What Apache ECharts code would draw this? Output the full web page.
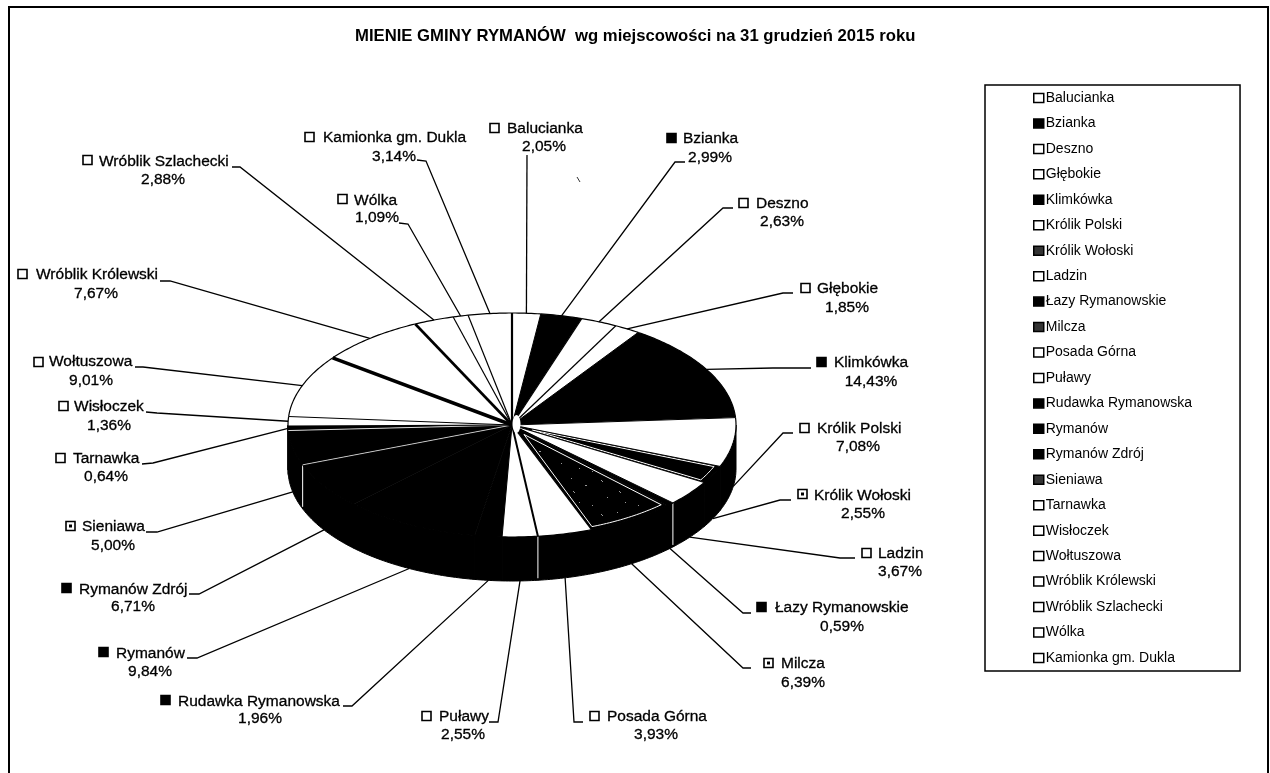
<!DOCTYPE html>
<html>
<head>
<meta charset="utf-8">
<style>
  html, body { margin: 0; padding: 0; background: #fff; }
  #chart { width: 1270px; height: 773px; }
</style>
<script src="https://cdn.jsdelivr.net/npm/echarts@6/dist/echarts.min.js"></script>
</head>
<body>
<div id="chart"></div>
<script>
  // dane
  var chartTitle = 'MIENIE GMINY RYMANÓW  wg miejscowości na 31 grudzień 2015 roku';
  var villages = ['Balucianka', 'Bzianka', 'Deszno', 'Głębokie', 'Klimkówka', 'Królik Polski', 'Królik Wołoski', 'Ladzin', 'Łazy Rymanowskie', 'Milcza', 'Posada Górna', 'Puławy', 'Rudawka Rymanowska', 'Rymanów', 'Rymanów Zdrój', 'Sieniawa', 'Tarnawka', 'Wisłoczek', 'Wołtuszowa', 'Wróblik Królewski', 'Wróblik Szlachecki', 'Wólka', 'Kamionka gm. Dukla'];
  var shares = [2.05, 2.99, 2.63, 1.85, 14.43, 7.08, 2.55, 3.67, 0.59, 6.39, 3.93, 2.55, 1.96, 9.84, 6.71, 5.00, 0.64, 1.36, 9.01, 7.67, 2.88, 1.09, 3.14];

  // wyglad wycinkow
  var sliceKind = ['white', 'black', 'white', 'white', 'black', 'white', 'frame', 'white', 'black', 'speckle', 'white', 'white', 'black', 'black', 'black', 'black', 'black', 'white', 'white', 'white', 'white', 'white', 'white'];
  var markerKind = ['white', 'black', 'white', 'white', 'black', 'white', 'frame', 'white', 'black', 'frame', 'white', 'white', 'black', 'black', 'black', 'frame', 'white', 'white', 'white', 'white', 'white', 'white', 'white'];
  var edgeWidth = [2.2, 1, 1.2, 1.2, 1, 1, 1, 1.2, 1, 1, 1.2, 2, 1, 1, 1, 0.7, 0.8, 1.2, 1.2, 3.5, 2.6, 1.2, 1.2];
  var edgeColor = ['#000', '#000', '#000', '#000', '#000', '#000', '#000', '#000', '#000', '#000', '#000', '#000', '#000', '#000', '#000', '#fff', '#fff', '#000', '#000', '#000', '#000', '#000', '#000'];
  var wallSeam = [0, 0, 0, 0, 0, 0, 0, 0, 1, 0, 0, 1, 0, 0, 0, 1, 0, 0, 0, 0, 0, 0, 0];

  // polozenie opisow: znacznik x,y / nazwa x,y / procent x,y / zalamanie linii
  var labelPlaces = [
    [490, 128, 507, 129, 544, 147, [[527, 155]]],
    [667, 138, 683, 139, 710, 158, [[685, 162], [675, 162]]],
    [739, 203, 756, 204, 782, 222, [[733, 208], [723, 208]]],
    [801, 288, 817, 289, 847, 308, [[793, 293], [783, 293]]],
    [817, 362, 834, 363, 871, 382, [[811, 368], [773, 368]]],
    [800, 428, 817, 429, 858, 447, [[793, 433], [783, 433]]],
    [798, 494, 814, 496, 863, 514, [[791, 500], [780, 500]]],
    [862, 553, 878, 554, 900, 572, [[855, 558], [840, 558]]],
    [757, 607, 775, 608, 842, 627, [[751, 613], [743, 613]]],
    [764, 663, 781, 664, 803, 683, [[751, 668], [743, 668]]],
    [590, 716, 607, 717, 656, 735, [[583, 722], [574, 722]]],
    [422, 716, 439, 717, 463, 735, [[489, 722], [498, 722]]],
    [161, 700, 178, 702, 260, 719, [[343, 706], [352, 706]]],
    [99, 652, 116, 654, 150, 672, [[187, 658], [197, 658]]],
    [62, 588, 79, 590, 133, 607, [[189, 594], [199, 594]]],
    [66, 526, 82, 527, 113, 546, [[146, 532], [157, 532]]],
    [56, 458, 73, 459, 106, 477, [[142, 464], [153, 463]]],
    [59, 406, 74, 407, 109, 426, [[146, 412], [157, 413]]],
    [34, 362, 49, 362, 91, 381, [[135, 367], [143, 367]]],
    [18, 274, 36, 275, 96, 294, [[160, 281], [170, 281]]],
    [83, 160, 99, 162, 163, 180, [[232, 167], [240, 167]]],
    [338, 199, 354, 201, 377, 218, [[399, 223], [408, 224]]],
    [305, 137, 323, 138, 394, 157, [[417, 160], [426, 161]]]
  ];

  var FONT = '"Liberation Sans", Arial, sans-serif';
  var pie = {cx: 512, cy: 425, rx: 224, ry: 112, depth: 44};

  var total = shares.reduce(function (a, b) { return a + b; }, 0);
  var starts = [];
  var sum = 0;
  for (let i = 0; i < shares.length; i++) {
    starts.push(sum);
    sum += shares[i];
  }

  function toAngle(share) {
    return share / total * 2 * Math.PI;
  }
  function rimPoint(a, k, dy) {
    return [pie.cx + pie.rx * k * Math.sin(a), pie.cy - pie.ry * k * Math.cos(a) + (dy || 0)];
  }
  function arcPoints(a0, a1, k, dy) {
    let pts = [];
    let n = Math.max(2, Math.ceil((a1 - a0) / 0.015));
    for (let i = 0; i <= n; i++) {
      pts.push(rimPoint(a0 + (a1 - a0) * i / n, k, dy));
    }
    return pts;
  }

  // rzadkie plamki na wycinku Milcza
  function speckleTile() {
    let c = document.createElement('canvas');
    c.width = 46;
    c.height = 34;
    let g = c.getContext('2d');
    g.fillStyle = '#000';
    g.fillRect(0, 0, 46, 34);
    g.fillStyle = '#999';
    [[3, 4], [4, 5], [19, 2], [33, 9], [34, 9], [9, 21], [27, 26], [40, 29], [21, 15], [22, 16]].forEach(function (p) {
      g.fillRect(p[0], p[1], 1, 1);
    });
    return c;
  }
  var speckle = {image: speckleTile(), repeat: 'repeat'};

  function renderWall(params, api) {
    let s = api.value(0);
    let v = api.value(1);
    let a0 = Math.max(toAngle(s), Math.PI / 2);
    let a1 = Math.min(toAngle(s + v), Math.PI * 1.5);
    if (a1 <= a0) {
      return {type: 'group', children: []};
    }
    let top = arcPoints(a0, a1, 1, 0);
    let bottom = arcPoints(a0, a1, 1, pie.depth).reverse();
    let children = [{
      type: 'polygon',
      shape: {points: top.concat(bottom)},
      style: {fill: '#000', stroke: '#000', lineWidth: 1}
    }];
    if (wallSeam[params.dataIndex]) {
      let p = rimPoint(toAngle(s), 1, 0);
      children.push({
        type: 'line',
        z2: 5,
        shape: {x1: p[0], y1: p[1], x2: p[0], y2: p[1] + pie.depth - 2},
        style: {stroke: '#fff', lineWidth: 1}
      });
    }
    return {type: 'group', children: children};
  }

  function renderSlice(idx) {
    return function (params, api) {
      let a0 = toAngle(api.value(0));
      let a1 = toAngle(api.value(0) + api.value(1));
      let center = [pie.cx, pie.cy];
      let kind = sliceKind[idx];
      let start = rimPoint(a0, 1);
      let children = [{
        type: 'polygon',
        shape: {points: [center].concat(arcPoints(a0, a1, 1))},
        style: {fill: kind === 'white' ? '#fff' : '#000'}
      }];
      if (kind === 'frame' || kind === 'speckle') {
        let pad = 0.012;
        children.push({
          type: 'polygon',
          z2: 2,
          shape: {points: [rimPoint((a0 + a1) / 2, 0.1)].concat(arcPoints(a0 + pad, a1 - pad, 0.975))},
          style: {fill: kind === 'speckle' ? speckle : '#000', stroke: '#fff', lineWidth: 1}
        });
      }
      children.push({
        type: 'polyline',
        z2: 3,
        shape: {points: arcPoints(a0, a1, 1)},
        style: {fill: null, stroke: '#000', lineWidth: 1.2}
      });
      children.push({
        type: 'line',
        z2: 3,
        shape: {x1: pie.cx, y1: pie.cy, x2: start[0], y2: start[1]},
        style: {stroke: edgeColor[idx], lineWidth: edgeWidth[idx]}
      });
      return {type: 'group', children: children};
    };
  }

  function markerElements(kind, x, cy) {
    let size = 9;
    let y = cy - size / 2;
    let els = [{
      type: 'rect',
      shape: {x: x, y: y, width: size, height: size},
      style: {fill: kind === 'black' ? '#000' : '#fff', stroke: '#000', lineWidth: 1.6}
    }];
    if (kind === 'frame') {
      els.push({
        type: 'rect',
        shape: {x: x + 3, y: y + 3, width: size - 6, height: size - 6},
        style: {fill: '#000'}
      });
    }
    return els;
  }

  function labelText(x, y, text, align) {
    return {
      type: 'text',
      style: {x: x, y: y, text: text, fill: '#000', stroke: '#000', lineWidth: 0.3, font: '15.5px ' + FONT, textAlign: align, textVerticalAlign: 'middle'}
    };
  }

  function renderLabel(params, api) {
    let i = params.dataIndex;
    let s = api.value(0);
    let v = api.value(1);
    let place = labelPlaces[i];
    let mid = toAngle(s + v / 2);
    let deg = mid * 180 / Math.PI;
    let target = rimPoint(mid, 1, deg > 90 && deg < 265 ? pie.depth : 0);
    let pct = v.toFixed(2).replace('.', ',') + '%';
    let children = markerElements(markerKind[i], place[0], place[1]);
    children.push({
      type: 'polyline',
      shape: {points: place[6].concat([target])},
      style: {fill: null, stroke: '#000', lineWidth: 1.3}
    });
    children.push(labelText(place[2], place[3], villages[i], 'left'));
    children.push(labelText(place[4], place[5], pct, 'center'));
    if (i === 0) {
      // jasny srodek tarczy
      children.push({
        type: 'ellipse',
        shape: {cx: pie.cx + 4.5, cy: pie.cy - 1, rx: 4, ry: 9},
        style: {fill: '#fff'}
      });
    }
    return {type: 'group', children: children};
  }

  function legendColor(kind) {
    if (kind === 'black') {
      return '#000';
    }
    return kind === 'frame' ? '#333' : '#fff';
  }

  var tableRows = villages.map(function (name, i) {
    return [starts[i], shares[i]];
  });

  var series = [{
    type: 'custom',
    name: 'bok',
    coordinateSystem: 'none',
    silent: true,
    z: 1,
    renderItem: renderWall,
    data: tableRows
  }];
  villages.forEach(function (name, i) {
    series.push({
      type: 'custom',
      name: name,
      coordinateSystem: 'none',
      silent: true,
      z: 2,
      itemStyle: {color: legendColor(markerKind[i])},
      renderItem: renderSlice(i),
      data: [tableRows[i]]
    });
  });
  series.push({
    type: 'custom',
    name: 'opisy',
    coordinateSystem: 'none',
    silent: true,
    z: 3,
    renderItem: renderLabel,
    data: tableRows
  });

  var chart = echarts.init(document.getElementById('chart'));
  chart.setOption({
    animation: false,
    backgroundColor: '#fff',
    title: {
      text: chartTitle,
      left: 355,
      top: 28,
      padding: 0,
      textStyle: {fontFamily: FONT, fontSize: 16.7, fontWeight: 'bold', color: '#000'}
    },
    legend: {
      orient: 'vertical',
      left: 985,
      top: 85,
      padding: [6, 48, 6, 48],
      itemGap: 11.45,
      itemWidth: 10,
      itemHeight: 9,
      icon: 'rect',
      borderColor: '#000',
      borderWidth: 1.5,
      selectedMode: false,
      itemStyle: {borderColor: '#000', borderWidth: 1.5},
      textStyle: {fontFamily: FONT, fontSize: 14, color: '#000', padding: [0, 0, 0, -3]},
      data: villages.map(function (name, i) {
        return {name: name, itemStyle: {color: legendColor(markerKind[i])}};
      })
    },
    graphic: [{
      type: 'rect',
      silent: true,
      shape: {x: 9, y: 7, width: 1259, height: 790},
      style: {fill: null, stroke: '#000', lineWidth: 2}
    }, {
      type: 'line',
      silent: true,
      shape: {x1: 577, y1: 177, x2: 580, y2: 182},
      style: {stroke: '#333', lineWidth: 1}
    }],
    series: series
  });
</script>
</body>
</html>
